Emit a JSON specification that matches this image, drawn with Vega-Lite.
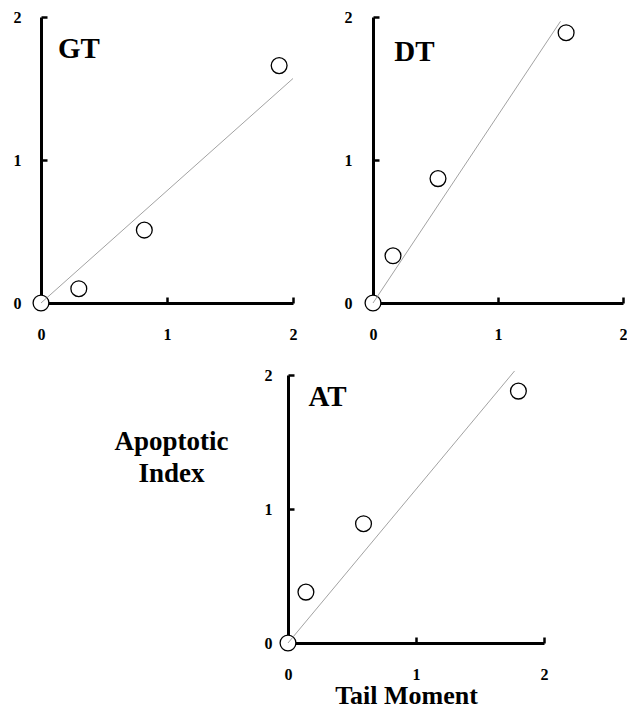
{
  "$schema": "https://vega.github.io/schema/vega-lite/v6.json",
  "padding": {"left": 13, "top": 9, "right": 0, "bottom": 0},
  "background": "white",
  "spacing": 25,
  "datasets": {
    "points": [
      {"panel": "GT", "tm": 0, "ai": 0},
      {"panel": "GT", "tm": 0.30, "ai": 0.10},
      {"panel": "GT", "tm": 0.82, "ai": 0.51},
      {"panel": "GT", "tm": 1.89, "ai": 1.66},
      {"panel": "DT", "tm": 0, "ai": 0},
      {"panel": "DT", "tm": 0.16, "ai": 0.33},
      {"panel": "DT", "tm": 0.52, "ai": 0.87},
      {"panel": "DT", "tm": 1.545, "ai": 1.89},
      {"panel": "AT", "tm": 0, "ai": 0},
      {"panel": "AT", "tm": 0.14, "ai": 0.38},
      {"panel": "AT", "tm": 0.59, "ai": 0.89},
      {"panel": "AT", "tm": 1.80, "ai": 1.88}
    ],
    "fits": [
      {"panel": "GT", "tm": 0, "ai": 0},
      {"panel": "GT", "tm": 2.0, "ai": 1.57},
      {"panel": "DT", "tm": 0, "ai": 0},
      {"panel": "DT", "tm": 1.50, "ai": 1.97},
      {"panel": "AT", "tm": 0, "ai": 0},
      {"panel": "AT", "tm": 1.77, "ai": 2.03}
    ],
    "labels": [
      {"panel": "GT", "lx": 0.135, "ly": 1.71},
      {"panel": "DT", "lx": 0.17, "ly": 1.69},
      {"panel": "AT", "lx": 0.16, "ly": 1.77}
    ]
  },
  "config": {
    "view": {"stroke": null},
    "axis": {
      "grid": false,
      "domainColor": "black",
      "domainWidth": 3,
      "tickColor": "black",
      "tickWidth": 2.5,
      "tickSize": -6,
      "format": "d",
      "labelFont": "Liberation Serif",
      "labelFontWeight": "bold",
      "labelFontSize": 16,
      "labelColor": "black",
      "labelFlush": false,
      "labelOverlap": false,
      "titleFont": "Liberation Serif",
      "titleFontWeight": "bold",
      "titleFontSize": 27,
      "titleColor": "black"
    }
  },
  "vconcat": [
    {
      "hconcat": [
        {
          "width": 252,
          "height": 286,
          "layer": [
            {
              "data": {"name": "points"},
              "transform": [{"filter": "datum.panel === 'GT'"}],
              "mark": {"type": "point", "shape": "circle", "filled": false, "fill": "white", "fillOpacity": 1, "stroke": "black", "strokeWidth": 1.3, "size": 250, "opacity": 1},
              "encoding": {
                "x": {"field": "tm", "type": "quantitative", "scale": {"domain": [0, 2], "nice": false}, "axis": {"values": [0, 1, 2], "title": null, "labelPadding": 29}},
                "y": {"field": "ai", "type": "quantitative", "scale": {"domain": [0, 2], "nice": false}, "axis": {"values": [0, 1, 2], "title": null, "labelPadding": 26}}
              }
            },
            {
              "data": {"name": "fits"},
              "transform": [{"filter": "datum.panel === 'GT'"}],
              "mark": {"type": "line", "color": "#8a8a8a", "strokeWidth": 0.8},
              "encoding": {
                "x": {"field": "tm", "type": "quantitative"},
                "y": {"field": "ai", "type": "quantitative"}
              }
            },
            {
              "data": {"name": "labels"},
              "transform": [{"filter": "datum.panel === 'GT'"}],
              "mark": {"type": "text", "font": "Liberation Serif", "fontWeight": "bold", "fontSize": 29, "align": "left", "baseline": "alphabetic", "color": "black"},
              "encoding": {
                "x": {"field": "lx", "type": "quantitative"},
                "y": {"field": "ly", "type": "quantitative"},
                "text": {"field": "panel"}
              }
            }
          ]
        },
        {
          "width": 250,
          "height": 286,
          "layer": [
            {
              "data": {"name": "points"},
              "transform": [{"filter": "datum.panel === 'DT'"}],
              "mark": {"type": "point", "shape": "circle", "filled": false, "fill": "white", "fillOpacity": 1, "stroke": "black", "strokeWidth": 1.3, "size": 250, "opacity": 1},
              "encoding": {
                "x": {"field": "tm", "type": "quantitative", "scale": {"domain": [0, 2], "nice": false}, "axis": {"values": [0, 1, 2], "title": null, "labelPadding": 29}},
                "y": {"field": "ai", "type": "quantitative", "scale": {"domain": [0, 2], "nice": false}, "axis": {"values": [0, 1, 2], "title": null, "labelPadding": 27}}
              }
            },
            {
              "data": {"name": "fits"},
              "transform": [{"filter": "datum.panel === 'DT'"}],
              "mark": {"type": "line", "color": "#8a8a8a", "strokeWidth": 0.8},
              "encoding": {
                "x": {"field": "tm", "type": "quantitative"},
                "y": {"field": "ai", "type": "quantitative"}
              }
            },
            {
              "data": {"name": "labels"},
              "transform": [{"filter": "datum.panel === 'DT'"}],
              "mark": {"type": "text", "font": "Liberation Serif", "fontWeight": "bold", "fontSize": 29, "align": "left", "baseline": "alphabetic", "color": "black"},
              "encoding": {
                "x": {"field": "lx", "type": "quantitative"},
                "y": {"field": "ly", "type": "quantitative"},
                "text": {"field": "panel"}
              }
            }
          ]
        }
      ],
      "spacing": 80,
      "bounds": "flush"
    },
    {
      "hconcat": [
        {
          "width": 247,
          "height": 10,
          "data": {"values": []},
          "mark": "point",
          "encoding": {}
        },
        {
          "width": 256,
          "height": 268,
          "layer": [
            {
              "data": {"name": "points"},
              "transform": [{"filter": "datum.panel === 'AT'"}],
              "mark": {"type": "point", "shape": "circle", "filled": false, "fill": "white", "fillOpacity": 1, "stroke": "black", "strokeWidth": 1.3, "size": 250, "opacity": 1},
              "encoding": {
                "x": {"field": "tm", "type": "quantitative", "scale": {"domain": [0, 2], "nice": false}, "axis": {"values": [0, 1, 2], "title": "Tail Moment", "labelPadding": 29, "titleFontSize": 26, "titleAlign": "center", "titleBaseline": "alphabetic", "titleX": 118, "titleY": 60}},
                "y": {"field": "ai", "type": "quantitative", "scale": {"domain": [0, 2], "nice": false}, "axis": {"values": [0, 1, 2], "title": ["Apoptotic", "Index"], "labelPadding": 22, "titleAngle": 0, "titleAlign": "center", "titleBaseline": "alphabetic", "titleX": -117, "titleY": 74, "titleLineHeight": 32}}
              }
            },
            {
              "data": {"name": "fits"},
              "transform": [{"filter": "datum.panel === 'AT'"}],
              "mark": {"type": "line", "color": "#8a8a8a", "strokeWidth": 0.8},
              "encoding": {
                "x": {"field": "tm", "type": "quantitative"},
                "y": {"field": "ai", "type": "quantitative"}
              }
            },
            {
              "data": {"name": "labels"},
              "transform": [{"filter": "datum.panel === 'AT'"}],
              "mark": {"type": "text", "font": "Liberation Serif", "fontWeight": "bold", "fontSize": 29, "align": "left", "baseline": "alphabetic", "color": "black"},
              "encoding": {
                "x": {"field": "lx", "type": "quantitative"},
                "y": {"field": "ly", "type": "quantitative"},
                "text": {"field": "panel"}
              }
            }
          ]
        }
      ],
      "spacing": 0,
      "bounds": "flush"
    }
  ]
}
